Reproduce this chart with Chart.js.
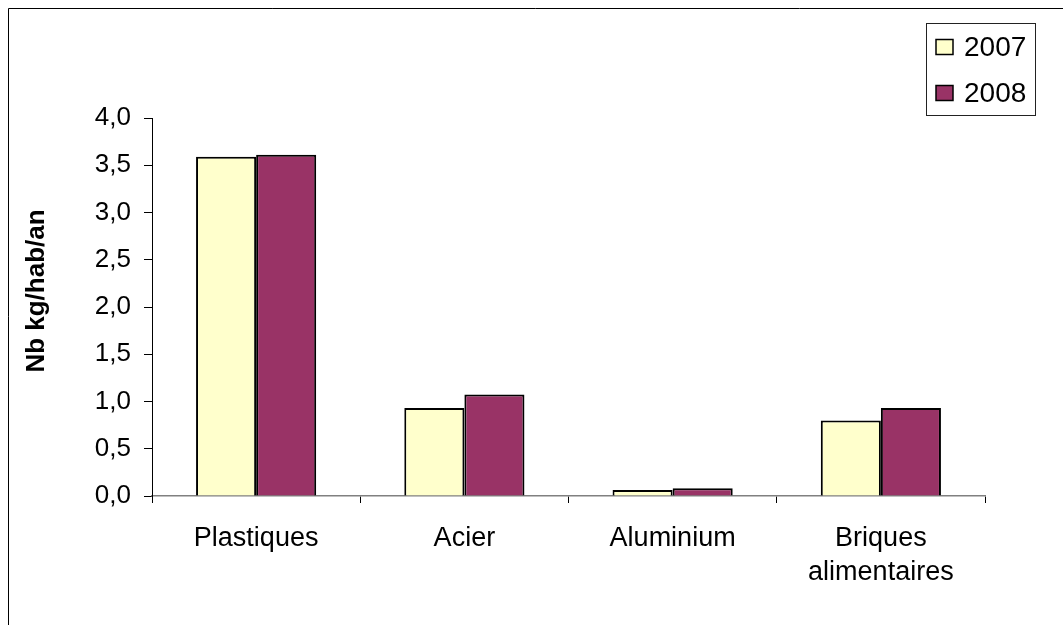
<!DOCTYPE html>
<html>
<head>
<meta charset="utf-8">
<title>Nb kg/hab/an</title>
<script src="https://cdn.jsdelivr.net/npm/chart.js@4.4.1/dist/chart.umd.min.js"></script>
<style>
  html, body { margin: 0; padding: 0; background: #fff; overflow: hidden; }
  canvas { display: block; }
</style>
</head>
<body>
<canvas id="grafico" width="1063" height="625"></canvas>
<script>
// donnees
const categories = ['Plastiques', 'Acier', 'Aluminium', ['Briques', 'alimentaires']];
const annees = ['2007', '2008'];
const valeurs_2007 = [3.59, 0.93, 0.063, 0.80];
const valeurs_2008 = [3.61, 1.075, 0.081, 0.93];
const ticks_y = [0, 0.5, 1, 1.5, 2, 2.5, 3, 3.5, 4];
const titre_y = 'Nb kg/hab/an';

const couleurs = ['#FFFFCC', '#993366'];
const police = '"Liberation Sans", Arial, sans-serif';

// cadre + legende + titre axe dessines a la main (style excel)
const cadre_legende = {
  id: 'cadre_legende',
  afterDraw(chart) {
    const ctx = chart.ctx;
    ctx.save();
    ctx.strokeStyle = '#000';
    ctx.lineWidth = 1;
    ctx.beginPath();
    ctx.moveTo(8.5, 625);
    ctx.lineTo(8.5, 8.5);
    ctx.lineTo(1063, 8.5);
    ctx.stroke();

    // titre axe y, un peu au dessus du centre comme dans excel
    ctx.save();
    ctx.translate(37, 291);
    ctx.rotate(-Math.PI / 2);
    ctx.font = 'bold 26px ' + police;
    ctx.fillStyle = '#000';
    ctx.textAlign = 'center';
    ctx.textBaseline = 'middle';
    ctx.fillText(titre_y, 0, 0);
    ctx.restore();

    // boite legende
    ctx.strokeStyle = '#222';
    ctx.lineWidth = 1;
    ctx.strokeRect(926.5, 23.5, 109, 92);
    ctx.font = '28px ' + police;
    ctx.textBaseline = 'middle';
    chart.data.datasets.forEach((ds, i) => {
      const y = 47 + i * 46;
      ctx.fillStyle = ds.backgroundColor;
      ctx.fillRect(936, y - 7.5, 17, 15);
      ctx.strokeStyle = '#000';
      ctx.lineWidth = 1.5;
      ctx.strokeRect(936, y - 7.5, 17, 15);
      ctx.fillStyle = '#000';
      ctx.fillText(ds.label, 964, y + 1);
    });
    ctx.restore();
  }
};

const chart = new Chart(document.getElementById('grafico'), {
  type: 'bar',
  data: {
    labels: categories,
    datasets: [
      {
        label: annees[0],
        data: valeurs_2007,
        backgroundColor: couleurs[0],
        borderColor: '#000',
        borderWidth: 2,
        borderSkipped: 'bottom',
        categoryPercentage: 0.577,
        barPercentage: 1.0
      },
      {
        label: annees[1],
        data: valeurs_2008,
        backgroundColor: couleurs[1],
        borderColor: '#000',
        borderWidth: 2,
        borderSkipped: 'bottom',
        categoryPercentage: 0.577,
        barPercentage: 1.0
      }
    ]
  },
  options: {
    responsive: false,
    animation: false,
    layout: { padding: { top: 118, right: 78, bottom: 0, left: 0 } },
    plugins: {
      legend: { display: false },
      tooltip: { enabled: false }
    },
    scales: {
      x: {
        afterFit(scale) { scale.height = 129; },
        border: { display: true, color: '#808080', width: 1.5 },
        grid: {
          offset: true,
          drawOnChartArea: false,
          drawTicks: true,
          tickLength: 7,
          color: '#000'
        },
        ticks: {
          color: '#000',
          padding: 19,
          maxRotation: 0,
          autoSkip: false,
          font: { family: police, size: 27, lineHeight: 1.24 }
        }
      },
      y: {
        min: 0,
        max: 4,
        afterFit(scale) { scale.width = 152; },
        afterBuildTicks(scale) { scale.ticks = ticks_y.map(v => ({ value: v })); },
        border: { display: true, color: '#000', width: 1 },
        grid: {
          drawOnChartArea: false,
          drawTicks: true,
          tickLength: 8,
          color: '#000'
        },
        ticks: {
          color: '#000',
          padding: 13,
          font: { family: police, size: 26 },
          callback: v => Number(v).toFixed(1).replace('.', ',')
        }
      }
    }
  },
  plugins: [cadre_legende]
});
</script>
</body>
</html>
